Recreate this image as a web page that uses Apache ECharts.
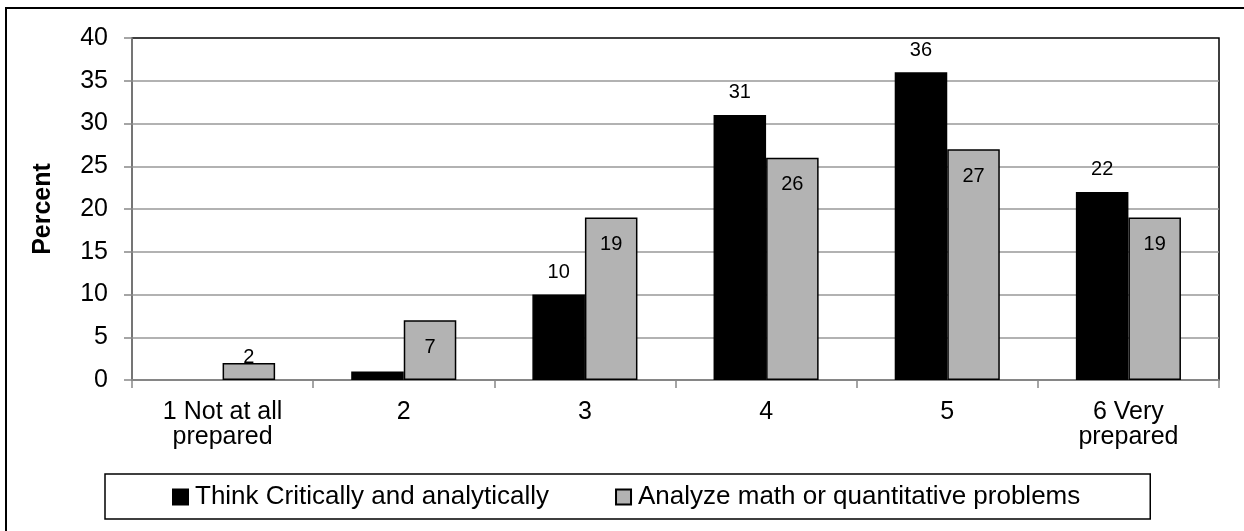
<!DOCTYPE html>
<html>
<head>
<meta charset="utf-8">
<script src="https://cdn.jsdelivr.net/npm/echarts@6/dist/echarts.min.js"></script>
<style>
  html, body { margin: 0; padding: 0; background: #fff; }
  #chart { position: absolute; left: 0; top: 0; width: 1244px; height: 531px; }
  #frame { position: absolute; left: 5px; top: 7px; width: 1300px; height: 600px;
           border-left: 2px solid #000; border-top: 2px solid #000; pointer-events: none; }
</style>
</head>
<body>
<div id="chart"></div>
<div id="frame"></div>
<script>
// Preparedness ratings (1 = not at all prepared ... 6 = very prepared)
const categories = ['1 Not at all\nprepared', '2', '3', '4', '5', '6 Very\nprepared'];
const seriesNames = ['Think Critically and analytically', 'Analyze math or quantitative problems'];
const thinkCritically = [null, 1, 10, 31, 36, 22];
const analyzeMath = [2, 7, 19, 26, 27, 19];
const yTicks = { min: 0, max: 40, interval: 5 };

const FONT = "'Liberation Sans', Arial, sans-serif";

// Black series: the sliver-thin bar carries no value label.
const blackData = thinkCritically.map(v => (v !== null && v < 2)
  ? { value: v, label: { show: false } }
  : v);

// Grey series labels sit inside the bar top; very short bars get theirs just above.
const greyData = analyzeMath.map(v => (v !== null && v < 4)
  ? { value: v, label: { position: 'top', distance: -5 } }
  : v);

const chart = echarts.init(document.getElementById('chart'), null, { renderer: 'canvas' });
chart.setOption({
  animation: false,
  backgroundColor: '#fff',
  textStyle: { fontFamily: FONT },
  grid: {
    left: 132, right: 25, top: 38, bottom: 151,
    show: true, borderColor: '#000', borderWidth: 1.5, backgroundColor: 'transparent'
  },
  legend: {
    left: 105, top: 474,
    padding: [10, 70, 9, 67],
    borderColor: '#000', borderWidth: 1.5,
    itemWidth: 15, itemHeight: 15, itemGap: 66,
    icon: 'rect',
    textStyle: { fontSize: 26, color: '#000', fontFamily: FONT, padding: [0, 0, 0, 2] },
    data: seriesNames
  },
  xAxis: {
    type: 'category',
    data: categories,
    axisLine: { lineStyle: { color: '#888', width: 1.5 } },
    axisTick: { show: true, length: 8, lineStyle: { color: '#888', width: 1.5 } },
    axisLabel: { color: '#000', fontSize: 25, lineHeight: 25, margin: 20, fontFamily: FONT, interval: 0 }
  },
  yAxis: {
    type: 'value',
    min: yTicks.min, max: yTicks.max, interval: yTicks.interval,
    name: 'Percent',
    nameLocation: 'middle',
    nameRotate: 90,
    nameGap: 76,
    nameTextStyle: { fontSize: 25, fontWeight: 'bold', color: '#000', fontFamily: FONT },
    axisLine: { show: true, lineStyle: { color: '#888', width: 1.5 } },
    axisTick: { show: true, length: 8, lineStyle: { color: '#888', width: 1.5 } },
    axisLabel: { color: '#000', fontSize: 25, margin: 24, fontFamily: FONT },
    splitLine: { show: true, showMaxLine: false, lineStyle: { color: '#999', width: 1.5 } }
  },
  series: [
    {
      name: seriesNames[0],
      type: 'bar',
      data: blackData,
      barGap: '0%',
      barCategoryGap: '42%',
      itemStyle: { color: '#000', borderColor: '#000', borderWidth: 1.5 },
      label: { show: true, position: 'top', distance: 12, fontSize: 20, color: '#000', fontFamily: FONT }
    },
    {
      name: seriesNames[1],
      type: 'bar',
      data: greyData,
      barGap: '0%',
      barCategoryGap: '42%',
      itemStyle: { color: '#b3b3b3', borderColor: '#000', borderWidth: 1.5 },
      label: { show: true, position: 'insideTop', distance: 17, fontSize: 20, color: '#000', fontFamily: FONT }
    }
  ]
});
</script>
</body>
</html>
